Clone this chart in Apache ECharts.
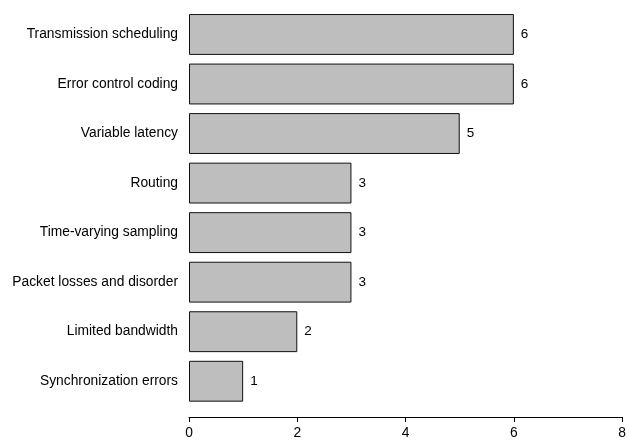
<!DOCTYPE html>
<html><head><meta charset="utf-8">
<script src="https://cdn.jsdelivr.net/npm/echarts@6/dist/echarts.min.js"></script>
<style>html,body{margin:0;padding:0;background:#fff}#c{width:629px;height:440px}</style>
</head><body><div id="c"></div>
<script>
const categories = ["Transmission scheduling","Error control coding","Variable latency","Routing","Time-varying sampling","Packet losses and disorder","Limited bandwidth","Synchronization errors"];
const values = [6,6,5,3,3,3,2,1];
const xTicks = [0,2,4,6,8];
const chart = echarts.init(document.getElementById('c'));
const font = "Liberation Sans, Arial, Helvetica, sans-serif";
chart.setOption({
  animation:false,
  grid:{left:189,right:3.7,top:9.7,bottom:33.6,containLabel:false},
  xAxis:{type:'value',min:xTicks[0],max:xTicks[xTicks.length-1],interval:2,offset:11,
    splitLine:{show:false},
    axisLine:{show:true,lineStyle:{color:'#000',width:1}},
    axisTick:{show:true,length:5,lineStyle:{color:'#000'}},
    axisLabel:{color:'#000',fontSize:13.8,fontFamily:font,margin:9}},
  yAxis:{type:'category',data:categories,inverse:true,
    axisLine:{show:false},axisTick:{show:false},
    axisLabel:{color:'#000',fontSize:13.8,fontFamily:font,margin:11}},
  series:[{type:'bar',data:values,barCategoryGap:'17.5%',
    itemStyle:{color:'#bebebe',borderColor:'#111',borderWidth:1},
    label:{show:true,position:'right',distance:7,color:'#000',fontSize:13.5,fontFamily:font}}]
});
</script></body></html>
